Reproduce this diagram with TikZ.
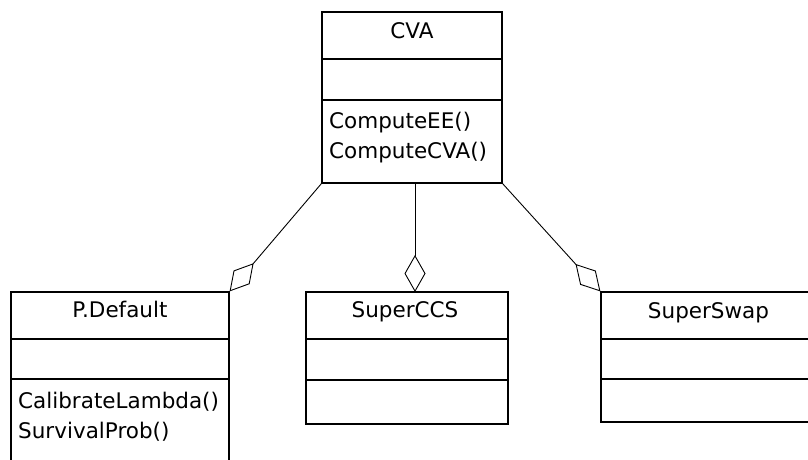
\documentclass[tikz,border=0pt]{standalone}
\usepackage{fontspec}
\setmainfont{DejaVu Sans}
\usetikzlibrary{arrows.meta}

\tikzset{
  classbox/.style={draw, line width=1.2pt, inner sep=0pt, fill=white},
  divider/.style={line width=1.2pt},
  title/.style={anchor=base, inner sep=0pt, font=\fontsize{21.5}{25}\selectfont},
  member/.style={anchor=base west, inner sep=0pt, font=\fontsize{21.5}{25}\selectfont},
  agg/.style={line width=0.9pt, -{Diamond[open, length=37pt, width=21pt, line width=0.9pt]}}
}

\begin{document}
\begin{tikzpicture}[x=1pt, y=-1pt]
\useasboundingbox (0,0) rectangle (808,460);
\clip (0,0) rectangle (808,460);
\fill[white] (0,0) rectangle (808,460);

% CVA class
\node[classbox, minimum width=180pt, minimum height=171pt] (cva) at (412,97.5) {};
\draw[divider] (cva.west |- 0,59) -- (cva.east |- 0,59);
\draw[divider] (cva.west |- 0,100) -- (cva.east |- 0,100);
\node[title] (cvaname) at (412,38) {CVA};
\node[member] (cvaop1) at (329,128) {ComputeEE()};
\node[member] (cvaop2) at (329,158) {ComputeCVA()};

% P.Default class
\node[classbox, minimum width=218pt, minimum height=188pt] (pdef) at (120,386) {};
\draw[divider] (pdef.west |- 0,339) -- (pdef.east |- 0,339);
\draw[divider] (pdef.west |- 0,379) -- (pdef.east |- 0,379);
\node[title] (pdefname) at (120,317) {P.Default};
\node[member] (pdefop1) at (18,408) {CalibrateLambda()};
\node[member] (pdefop2) at (18,438) {SurvivalProb()};

% SuperCCS class
\node[classbox, minimum width=202pt, minimum height=132pt] (ccs) at (407,358) {};
\draw[divider] (ccs.west |- 0,339) -- (ccs.east |- 0,339);
\draw[divider] (ccs.west |- 0,380) -- (ccs.east |- 0,380);
\node[title] (ccsname) at (405,317) {SuperCCS};

% SuperSwap class
\node[classbox, minimum width=215pt, minimum height=130pt] (swap) at (708.5,357) {};
\draw[divider] (swap.west |- 0,339) -- (swap.east |- 0,339);
\draw[divider] (swap.west |- 0,379) -- (swap.east |- 0,379);
\node[title] (swapname) at (708.5,318) {SuperSwap};

% aggregations
\coordinate (cvamid) at (415,183);
\coordinate (ccstop) at (415,292);
\draw[agg] (cva.south west) -- (pdef.north east);
\draw[agg] (cvamid) -- (ccstop);
\draw[agg] (cva.south east) -- (swap.north west);
\end{tikzpicture}
\end{document}
